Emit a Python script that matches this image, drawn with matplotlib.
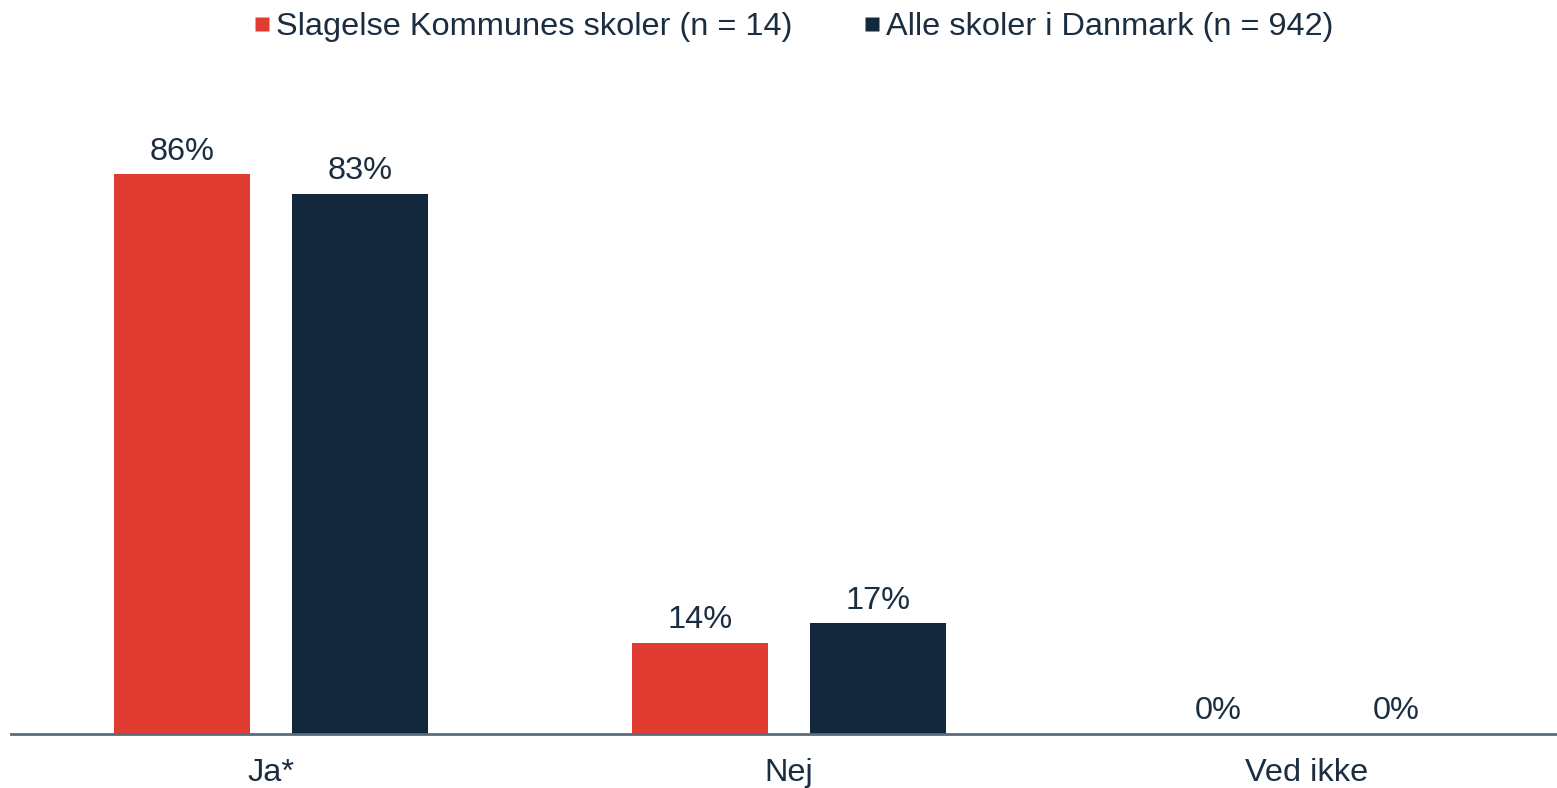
import matplotlib
matplotlib.use("Agg")
import matplotlib.pyplot as plt
from matplotlib.lines import Line2D
import numpy as np

categories = ["Ja*", "Nej", "Ved ikke"]
series_names = ["Slagelse Kommunes skoler (n = 14)", "Alle skoler i Danmark (n = 942)"]
slagelse = [86, 14, 0]
danmark = [83, 17, 0]
colors = ["#E03C31", "#13283D"]
text_color = "#1B2D40"

plt.rcParams['font.family'] = ['Liberation Sans', 'DejaVu Sans']

fig = plt.figure(figsize=(15.57, 7.88), dpi=100)
ax = fig.add_axes([11/1557, 54/788, 1 - 11/1557, 651/788])

fs = 23.4
x = np.arange(len(categories))
width = 0.2625
offset = 0.1718
for vals, off, c in [(slagelse, -offset, colors[0]), (danmark, offset, colors[1])]:
    bars = ax.bar(x + off, vals, width=width, color=c, zorder=2)
    for b, v in zip(bars, vals):
        ax.annotate(f"{v}%", (b.get_x() + b.get_width()/2, v),
                    xytext=(0, 5.5), textcoords="offset points",
                    ha="center", va="bottom", fontsize=fs, color=text_color)

ax.set_xlim(-0.502, 2.483)
ax.set_ylim(0, 100)
ax.set_xticks(x)
ax.set_xticklabels(categories, fontsize=fs, color=text_color)
ax.tick_params(axis='x', length=0, pad=17)
ax.set_yticks([])
for s in ["top", "right", "left"]:
    ax.spines[s].set_visible(False)
ax.spines["bottom"].set_color("#5B6B7B")
ax.spines["bottom"].set_linewidth(2)

handles = [Line2D([], [], marker='s', linestyle='none', markersize=10,
                  markerfacecolor=c, markeredgecolor='none') for c in colors]
leg = fig.legend(handles, series_names, loc='center', bbox_to_anchor=(0.510, 1 - 27/788),
                 ncol=2, frameon=False, fontsize=fs, handlelength=0.45, handletextpad=0.22,
                 columnspacing=2.2, borderpad=0)
for t in leg.get_texts():
    t.set_color(text_color)

fig.savefig("out.png", dpi=100)
